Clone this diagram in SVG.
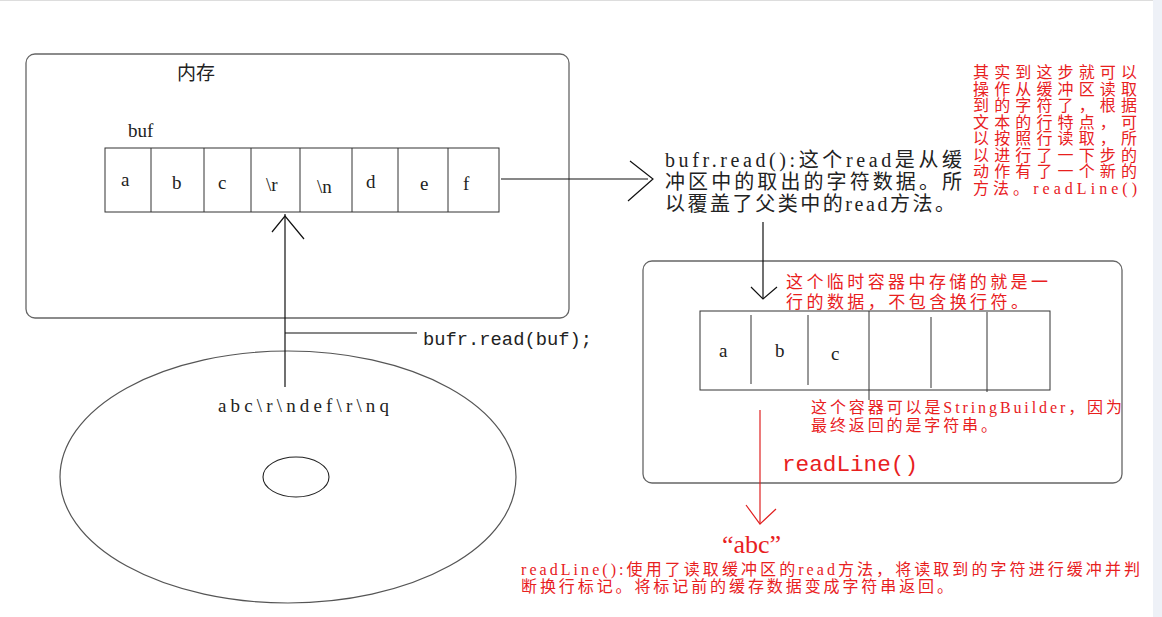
<svg xmlns="http://www.w3.org/2000/svg" width="1162" height="617" viewBox="0 0 1162 617">
<style>
.box{fill:none;stroke:#666;stroke-width:1.3}
.cell{fill:none;stroke:#333;stroke-width:1}
.ln{stroke:#111;stroke-width:1.2;fill:none}
.rln{stroke:#e02020;stroke-width:1.2;fill:none}
.lt{font-family:"Liberation Serif",serif;font-size:19px;fill:#222}
.mix{font-family:"Liberation Serif","Noto Sans CJK SC",serif;fill:#222}
.red{font-family:"Liberation Serif","Noto Sans CJK SC",serif;fill:#e8201e}
.mono{font-family:"Liberation Mono","Noto Sans CJK SC",monospace}
</style>
<rect x="0" y="0" width="1162" height="617" fill="#ffffff"/>
<rect x="1153" y="0" width="9" height="617" fill="#eef1f7"/>
<line x1="0" y1="0.5" x2="1153" y2="0.5" stroke="#ddd"/>

<g id="memory">
<rect class="box" x="26" y="54" width="543" height="264" rx="9"/>
<text x="177" y="80" font-family="Noto Sans CJK SC,sans-serif" font-size="19" fill="#222">内存</text>
<text class="lt" x="128" y="137" font-size="18">buf</text>
</g>

<g id="buf-array">
<rect class="cell" x="105" y="148" width="394" height="64"/>
<path class="cell" d="M151 148V212M204 148V212M251 148V212M300 148V212M352 148V212M398 148V212M448 148V212"/>
<text class="lt" x="121" y="186">a</text>
<text class="lt" x="172" y="189">b</text>
<text class="lt" x="218" y="189">c</text>
<text class="lt" x="266" y="191">\r</text>
<text class="lt" x="317" y="193">\n</text>
<text class="lt" x="366" y="188">d</text>
<text class="lt" x="420" y="190">e</text>
<text class="lt" x="463" y="190">f</text>
</g>

<g id="disk">
<ellipse cx="288" cy="477" rx="228" ry="126" fill="none" stroke="#555" stroke-width="1.2"/>
<ellipse cx="296" cy="477" rx="33" ry="20" fill="none" stroke="#222" stroke-width="1.1"/>
<text class="lt" x="218" y="412" font-size="21" textLength="171" lengthAdjust="spacing">abc\r\ndef\r\nq</text>
</g>

<g id="read-label">
<text class="mix mono" x="423" y="345" font-size="18" textLength="169" lengthAdjust="spacingAndGlyphs">bufr.read(buf);</text>
</g>

<g id="read-note">
<text class="mix" x="665" y="167" font-size="20" textLength="297" lengthAdjust="spacing">bufr.read():这个read是从缓</text>
<text class="mix" x="665" y="189" font-size="20" textLength="297" lengthAdjust="spacing">冲区中的取出的字符数据。所</text>
<text class="mix" x="665" y="211" font-size="20" textLength="290" lengthAdjust="spacing">以覆盖了父类中的read方法。</text>
</g>

<g id="side-note">
<text class="red" x="973" y="78" font-size="16" textLength="164" lengthAdjust="spacing">其实到这步就可以</text>
<text class="red" x="973" y="94.5" font-size="16" textLength="164" lengthAdjust="spacing">操作从缓冲区读取</text>
<text class="red" x="973" y="111" font-size="16" textLength="164" lengthAdjust="spacing">到的字符了，根据</text>
<text class="red" x="973" y="127.5" font-size="16" textLength="164" lengthAdjust="spacing">文本的行特点，可</text>
<text class="red" x="973" y="144" font-size="16" textLength="164" lengthAdjust="spacing">以按照行读取，所</text>
<text class="red" x="973" y="160.5" font-size="16" textLength="164" lengthAdjust="spacing">以进行了一下步的</text>
<text class="red" x="973" y="177" font-size="16" textLength="164" lengthAdjust="spacing">动作有了一个新的</text>
<text class="red" x="973" y="193.5" font-size="16" textLength="164" lengthAdjust="spacing">方法。readLine()</text>
</g>

<g id="line-container">
<rect class="box" x="643" y="261" width="479" height="222" rx="9"/>
<text class="red" x="786" y="288" font-size="17" textLength="262" lengthAdjust="spacing">这个临时容器中存储的就是一</text>
<text class="red" x="786" y="308" font-size="17" textLength="242" lengthAdjust="spacing">行的数据，不包含换行符。</text>
<text class="red" x="811" y="413" font-size="16" textLength="311" lengthAdjust="spacing">这个容器可以是StringBuilder，因为</text>
<text class="red" x="811" y="431" font-size="16" textLength="186" lengthAdjust="spacing">最终返回的是字符串。</text>
<text class="red mono" x="782" y="471" font-size="22" textLength="136" lengthAdjust="spacingAndGlyphs">readLine()</text>
</g>

<g id="line-array">
<rect class="cell" x="700" y="311" width="350" height="79"/>
<path class="cell" d="M751 315V384M808 315V385M869 311V400M931 317V388M987 312V392"/>
<text class="lt" x="719" y="357">a</text>
<text class="lt" x="775" y="357">b</text>
<text class="lt" x="831" y="360">c</text>
</g>

<g id="result">
<text x="722" y="553" font-family="Liberation Serif,Noto Sans CJK SC,serif" font-size="26" fill="#e8201e">“abc”</text>
<text class="red" x="521" y="575" font-size="16" textLength="619" lengthAdjust="spacing">readLine():使用了读取缓冲区的read方法，将读取到的字符进行缓冲并判</text>
<text class="red" x="521" y="592" font-size="16" textLength="432" lengthAdjust="spacing">断换行标记。将标记前的缓存数据变成字符串返回。</text>
</g>

<g id="connectors">
<path class="ln" d="M285 387V214"/>
<path class="ln" d="M272 232L285 216L304 239"/>
<path class="ln" d="M285 333H417"/>
<path class="ln" d="M501 179H648"/>
<path class="ln" d="M630 161L653 179L628 201"/>
<path class="ln" d="M763 222V298"/>
<path class="ln" d="M751 287L763 299L777 287"/>
<path class="rln" d="M760 410V523"/>
<path class="rln" d="M746 505L760 524L776 509"/>
</g>
</svg>
